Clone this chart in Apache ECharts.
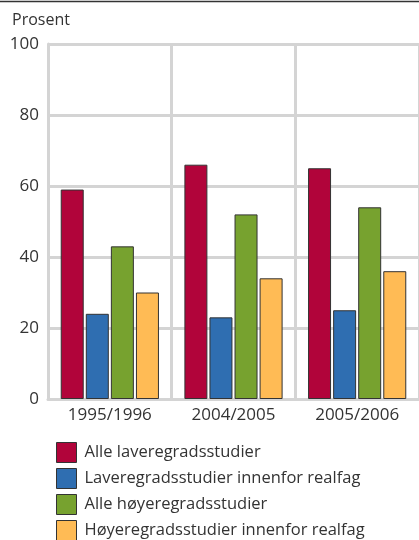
<!DOCTYPE html>
<html>
<head>
<meta charset="utf-8">
<script src="https://cdn.jsdelivr.net/npm/echarts@6/dist/echarts.min.js"></script>
<style>
  html, body { margin: 0; padding: 0; background: #fff; }
  #chart { width: 419px; height: 540px; }
</style>
</head>
<body>
<div id="chart"></div>
<script>
const categories = ['1995/1996', '2004/2005', '2005/2006'];
const seriesNames = [
  'Alle laveregradsstudier',
  'Laveregradsstudier innenfor realfag',
  'Alle høyeregradsstudier',
  'Høyeregradsstudier innenfor realfag'
];
const alleLavere = [59, 66, 65];
const lavereRealfag = [24, 23, 25];
const alleHoyere = [43, 52, 54];
const hoyereRealfag = [30, 34, 36];
const colors = ['#b1043a', '#2f6eb1', '#77a22f', '#ffbb55'];

const font = '"Open Sans", "Noto Sans", sans-serif';
const values = [alleLavere, lavereRealfag, alleHoyere, hoyereRealfag];

const chart = echarts.init(document.getElementById('chart'));

const option = {
  animation: false,
  textStyle: { fontFamily: font },
  color: colors,
  graphic: [
    {
      type: 'line',
      shape: { x1: 0, y1: 1.5, x2: 419, y2: 1.5 },
      style: { stroke: '#333', lineWidth: 1.5 }
    },
    {
      type: 'text',
      left: 12,
      top: 12,
      style: { text: 'Prosent', fontSize: 16, fill: '#333', fontFamily: font }
    }
  ],
  grid: { left: 48, right: 0, top: 44, bottom: 141 },
  legend: {
    orient: 'vertical',
    left: 56,
    top: 442,
    height: 110,
    padding: 0,
    itemWidth: 20,
    itemHeight: 20,
    itemGap: 5,
    icon: 'rect',
    itemStyle: { borderColor: '#333', borderWidth: 1 },
    textStyle: { fontSize: 16.5, color: '#333', fontFamily: font, padding: [0, 0, 0, 3] },
    data: seriesNames
  },
  xAxis: {
    type: 'category',
    data: categories,
    axisLine: { lineStyle: { color: '#d4d4d4', width: 3 } },
    axisTick: { show: false },
    axisLabel: { fontSize: 17, color: '#333', margin: 8, fontFamily: font },
    splitLine: { show: true, lineStyle: { color: '#d4d4d4', width: 3 } }
  },
  yAxis: {
    type: 'value',
    min: 0,
    max: 100,
    interval: 20,
    axisLine: { show: true, lineStyle: { color: '#d4d4d4', width: 3 } },
    axisTick: { show: false },
    axisLabel: { fontSize: 17, color: '#333', margin: 9, fontFamily: font },
    splitLine: { lineStyle: { color: '#d4d4d4', width: 3 } }
  },
  series: seriesNames.map((name, i) => ({
    name: name,
    type: 'bar',
    data: values[i],
    barWidth: 23,
    barGap: '9%',
    itemStyle: { color: colors[i], borderColor: '#333', borderWidth: 1 }
  }))
};

chart.setOption(option);
</script>
</body>
</html>
